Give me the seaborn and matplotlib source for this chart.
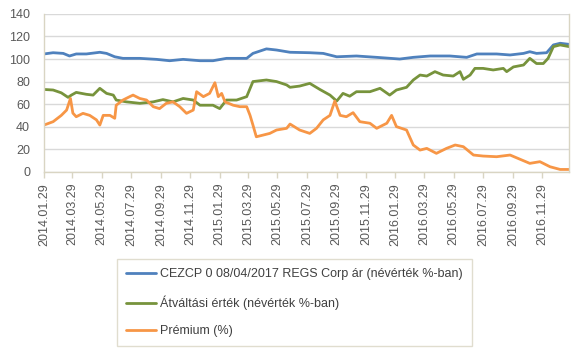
import numpy as np
import pandas as pd
import matplotlib
matplotlib.use("Agg")
import matplotlib.pyplot as plt
import seaborn as sns

START = "2014-01-29"

# days since 2014-01-29 and values
blue_days = [0, 19, 40, 53, 67, 88, 116, 130, 147, 164, 199, 234, 261, 289, 324, 351,
             379, 421, 434, 462, 483, 504, 511, 552, 580, 608, 649, 691, 739, 767, 802,
             843, 878, 899, 940, 968, 996, 1009, 1023, 1044, 1058, 1072, 1091]
blue_vals = [104.5, 105.6, 105, 102.7, 104.5, 104.5, 106, 105, 102, 100.6, 100.6, 99.7,
             98.5, 99.7, 98.5, 98.5, 100.6, 100.6, 105, 109, 108, 106.5, 106, 105.6, 105,
             102, 102.7, 101.5, 100, 101.5, 102.7, 102.7, 101.5, 104.5, 104.5, 103.6, 105,
             106.5, 105, 105.6, 112.5, 114, 113]

green_days = [0, 19, 36, 50, 57, 67, 88, 102, 116, 130, 144, 150, 171, 199, 227, 247,
              268, 289, 310, 324, 351, 365, 379, 400, 421, 434, 462, 483, 504, 511, 531,
              552, 573, 594, 608, 621, 635, 649, 677, 698, 718, 732, 753, 767, 781, 795,
              812, 829, 850, 864, 871, 885, 895, 912, 933, 954, 961, 975, 996, 1009, 1023,
              1037, 1047, 1058, 1072, 1091]
green_vals = [73, 72.5, 70, 66, 68, 70.4, 68.7, 68, 74, 69.5, 68, 63.6, 62, 60.7, 62, 64,
              62, 65, 63.6, 59, 59, 56, 63.6, 63.6, 66.6, 80, 81.4, 80, 77, 74.9, 76, 78.4,
              73, 68, 62.7, 69.5, 67, 71, 71, 74, 68, 72.5, 74.9, 81.4, 85.8, 84.9, 88.8,
              85.8, 84.9, 88.8, 82, 85.8, 91.7, 91.7, 90.3, 91.7, 88.8, 93, 94.7, 100.6,
              96, 96, 100.6, 111, 112.5, 111]

orange_days = [0, 19, 36, 47, 55, 60, 67, 81, 95, 109, 116, 123, 137, 147, 150, 164, 178,
               185, 199, 213, 227, 240, 254, 268, 282, 296, 310, 317, 331, 344, 355, 362,
               369, 376, 393, 407, 421, 428, 434, 441, 455, 469, 483, 504, 511, 531, 552,
               566, 580, 594, 604, 615, 628, 642, 656, 677, 691, 712, 722, 732, 753, 767,
               781, 795, 815, 836, 854, 871, 892, 912, 940, 968, 989, 1009, 1030, 1051,
               1072, 1091]
orange_vals = [41.4, 44.4, 50, 54.7, 65, 52, 48.8, 51.8, 50, 46, 41.4, 50, 50, 47.4, 59,
               63.6, 66.6, 68, 65, 63.6, 57.7, 56, 60.7, 62, 57.7, 51.8, 54.7, 71, 66.6,
               69.5, 79, 66.6, 69.5, 62, 59, 57.7, 57.7, 50, 41.4, 31, 32.5, 34, 37, 38.5,
               42.3, 37, 34, 38.5, 46, 50, 62.7, 50, 48.8, 52.4, 44.4, 43, 38.5, 43, 50,
               40, 37, 23.7, 19.2, 20.7, 16.3, 20.7, 23.7, 22.2, 14.8, 13.9, 13.3, 14.8,
               11, 7.4, 8.9, 4.4, 2, 2]

series_names = ["CEZCP 0 08/04/2017 REGS Corp ár (névérték %-ban)",
                "Átváltási érték (névérték %-ban)",
                "Prémium (%)"]
series_colors = ["#4F81BD", "#77933C", "#F79646"]

tick_labels = ["2014.01.29", "2014.03.29", "2014.05.29", "2014.07.29", "2014.09.29",
               "2014.11.29", "2015.01.29", "2015.03.29", "2015.05.29", "2015.07.29",
               "2015.09.29", "2015.11.29", "2016.01.29", "2016.03.29", "2016.05.29",
               "2016.07.29", "2016.09.29", "2016.11.29"]
y_ticks = [0, 20, 40, 60, 80, 100, 120, 140]

start = pd.Timestamp(START)
frames = []
for name, days, vals in zip(series_names,
                            [blue_days, green_days, orange_days],
                            [blue_vals, green_vals, orange_vals]):
    frames.append(pd.DataFrame({
        "date": start + pd.to_timedelta(days, unit="D"),
        "value": vals,
        "series": name,
    }))
df = pd.concat(frames, ignore_index=True)

sns.set_theme(style="white")
plt.rcParams["font.family"] = ["Liberation Sans", "DejaVu Sans"]

fig = plt.figure(figsize=(5.84, 3.49), dpi=100)
ax = fig.add_axes([0.0753, 0.508, 0.8995, 0.452])

sns.lineplot(data=df, x="date", y="value", hue="series", hue_order=series_names,
             palette=series_colors, linewidth=2.0, ax=ax, legend=True)

grid_col = "#D9D9D9"
axis_col = "#D9D5C3"
ax.set_ylim(0, 140)
ax.set_yticks(y_ticks)
ax.yaxis.grid(True, color=grid_col, linewidth=1.0)
ax.set_axisbelow(True)
ax.tick_params(axis="y", length=0, pad=10, labelsize=9, labelcolor="#595959")

tick_dates = [pd.to_datetime(t, format="%Y.%m.%d") for t in tick_labels]
ax.set_xlim(start, start + pd.Timedelta(days=1091))
ax.set_xticks(tick_dates)
ax.set_xticklabels(tick_labels, rotation=90, fontsize=9, color="#595959")
ax.tick_params(axis="x", length=4, width=1, color=axis_col, pad=4, bottom=True)
ax.set_xlabel("")
ax.set_ylabel("")

for side in ["left", "bottom", "right"]:
    ax.spines[side].set_visible(True)
    ax.spines[side].set_color(axis_col)
    ax.spines[side].set_linewidth(1.0)
ax.spines["top"].set_visible(False)

handles, labels = ax.get_legend_handles_labels()
ax.legend_.remove()
leg = fig.legend(handles, labels, loc="upper left",
                 bbox_to_anchor=(117 / 584, 1 - 259 / 349),
                 borderaxespad=0.0,
                 frameon=True, fancybox=False, fontsize=9.0,
                 handlelength=2.4, handletextpad=0.3, labelspacing=1.2,
                 borderpad=0.75, labelcolor="#404040")
leg.get_frame().set_edgecolor(axis_col)
leg.get_frame().set_linewidth(1.0)
for h in leg.legend_handles:
    h.set_linewidth(2.0)

fig.savefig("out.png", dpi=100)
